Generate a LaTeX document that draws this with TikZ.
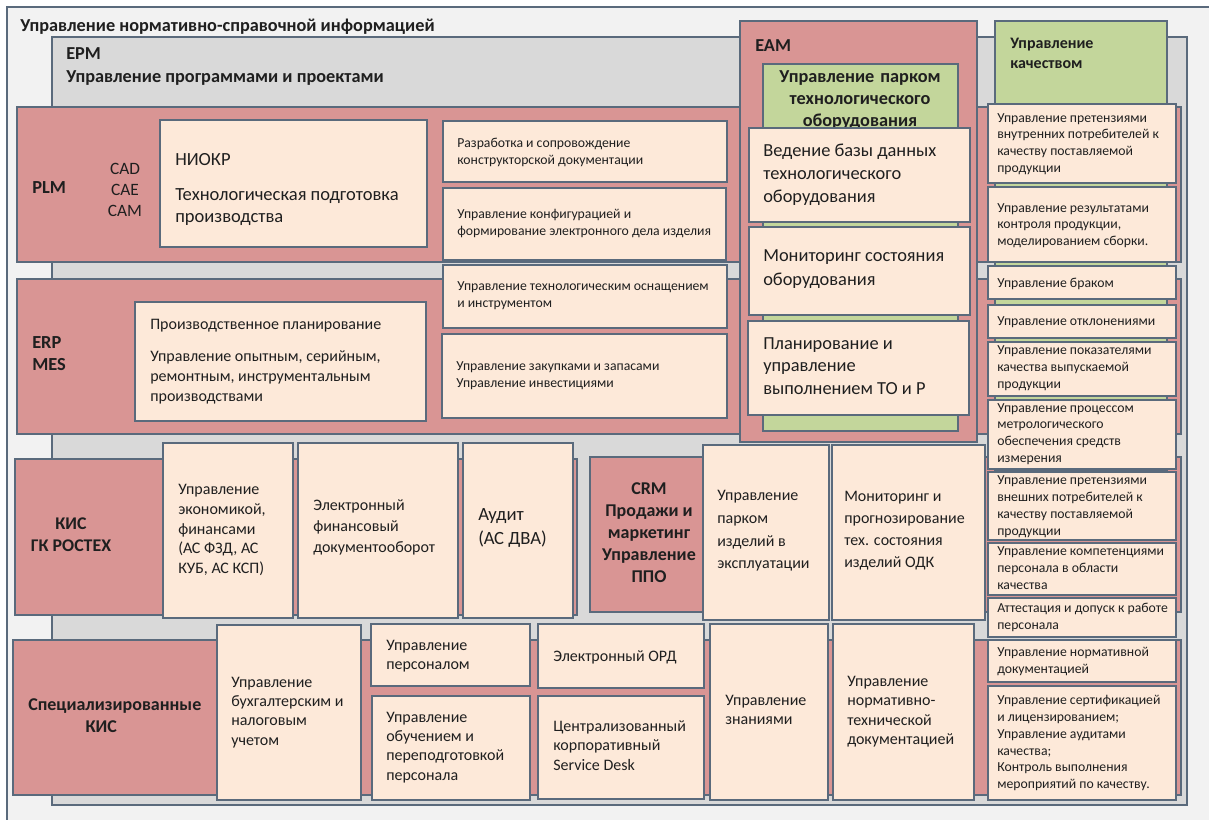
\documentclass[tikz,border=0pt]{standalone}
\usepackage{fontspec}
\setmainfont{Carlito}
\usetikzlibrary{fit}
\definecolor{pinkc}{HTML}{D99594}
\definecolor{peach}{HTML}{FDE9D9}
\definecolor{greenc}{HTML}{C3D69B}
\definecolor{greyc}{HTML}{D9D9D9}
\definecolor{outerc}{HTML}{F2F2F2}
\definecolor{edge}{HTML}{5A6A7C}
\definecolor{ink}{HTML}{1F1F1F}
\newcommand\fsm{\fontsize{10.3}{12.6}\selectfont}
\newcommand\fmd{\fontsize{12}{15}\selectfont}
\newcommand\fsp{\fontsize{12}{14.6}\selectfont}
\newcommand\fbig{\fontsize{13.8}{17.2}\selectfont}
\newcommand\fnio{\fontsize{13.9}{16.5}\selectfont}
\newcommand\fhd{\bfseries\fontsize{13.7}{17.3}\selectfont}
\newcommand\fhdb{\bfseries\fontsize{13.8}{17}\selectfont}
\newcommand\bx[6][box]{\node[#1, fit={(#3,#4) (#5,#6)}] (#2) {};}
\tikzset{
  box/.style={draw=edge, line width=1.2pt, inner sep=0pt, outer sep=0pt, fill=peach},
  pinkbox/.style={box, fill=pinkc},
  greenbox/.style={box, fill=greenc},
  greybox/.style={box, fill=greyc, line width=0.9pt},
  outerbox/.style={box, fill=outerc, line width=0.9pt},
  t/.style={inner sep=0pt, anchor=west, align=left, text=ink,
    execute at begin node=\strut, execute at end node=\strut},
  tc/.style={t, anchor=center, align=center}
}
\begin{document}
\begin{tikzpicture}[x=0.75pt,y=-0.75pt]
\useasboundingbox (0,0) rectangle (1209,820);
\clip (0,0) rectangle (1209,820);
% frames
\bx[outerbox]{outer}{7}{7}{1240}{850}
\bx[greybox]{epm}{52}{37}{1187}{805}
% rows
\bx[pinkbox]{plmrow}{17}{107}{1181}{262}
\bx[pinkbox]{erprow}{17}{279}{1181}{434}
\bx[pinkbox]{kisrow}{15}{459}{577}{615}
\bx[pinkbox]{kisq}{978}{457}{1181}{612}
\bx[pinkbox]{specrow}{13}{640}{1181}{795}
\bx[pinkbox]{crm}{590}{457}{703}{612}
% EAM
\bx[pinkbox]{eam}{740}{21}{977}{442}
\bx[greenbox]{eamg}{763}{64}{958}{431}
\node[tc, font=\bfseries\fontsize{13.7}{16.5}\selectfont, text width=200pt] (eamgt) at (860,100) {Управление парком\\технологического\\оборудования};
\bx{eam1}{749}{128}{970}{222}
\bx{eam2}{749}{227}{970}{315}
\bx{eam3}{748}{321}{969}{415}
% quality
\bx[greenbox]{qual}{995}{21}{1167}{470}
\bx{q1}{988}{104}{1176}{183}
\bx{q2}{988}{187}{1176}{262}
\bx{q3}{988}{266}{1176}{299}
\bx{q4}{988}{305}{1176}{338}
\bx{q5}{988}{342}{1176}{396}
\bx{q6}{988}{400}{1176}{469}
\bx{q7}{988}{472}{1176}{540}
\bx{q8}{988}{543}{1176}{595}
\bx{q9}{988}{598}{1176}{637}
\bx{q10}{988}{640}{1176}{682}
\bx{q11}{988}{686}{1176}{800}
% PLM / ERP boxes
\bx{niokr}{160}{120}{427}{247}
\bx{plm1}{443}{121}{727}{182}
\bx{plm2}{443}{188}{726}{260}
\bx{erp1}{443}{265}{727}{328}
\bx{erp2}{442}{334}{727}{418}
\bx{prod}{135}{302}{426}{421}
% KIS boxes
\bx{kis1}{163}{443}{293}{618}
\bx{kis2}{298}{443}{458}{618}
\bx{kis3}{463}{443}{573}{618}
\bx{crm2}{703}{445}{829}{620}
\bx{crm3}{832}{445}{985}{620}
% Spec boxes
\bx{s1}{217}{625}{361}{800}
\bx{s2}{371}{624}{530}{686}
\bx{s3}{372}{696}{530}{800}
\bx{s4}{538}{624}{704}{688}
\bx{s5}{538}{696}{704}{799}
\bx{s6}{710}{624}{828}{800}
\bx{s7}{833}{624}{974}{800}
% ---------- texts ----------
\node[t, font=\fhd] (title) at (20,27) {Управление нормативно-справочной информацией};
\node[t, font=\fhd] (epmt) at (66,69) {EPM\\Управление программами и проектами};
\node[t, font=\fhd] (eamt) at (755,47) {EAM};
\node[t, font=\bfseries\fontsize{12}{15}\selectfont, text width=120pt] (qualt) at (1010,55) {Управление\\качеством};
% PLM
\node[t, font=\fhdb] (plmt) at (32,189) {PLM};
\node[tc, font=\fontsize{13}{16}\selectfont] (cadt) at (125,193) {CAD\\CAE\\CAM};
\node[t, font=\fnio] (niokrt) at (175,191.5) {НИОКР\\[10pt]Технологическая подготовка\\производства};
\node[t, font=\fsm] (plm1t) at (457,154) {Разработка и сопровождение\\конструкторской документации};
\node[t, font=\fsm] (plm2t) at (457,225) {Управление конфигурацией и\\формирование электронного дела изделия};
\node[t, font=\fsm] (erp1t) at (457,297) {Управление технологическим оснащением\\и инструментом};
\node[t, font=\fsm] (erp2t) at (456,377) {Управление закупками и запасами\\Управление инвестициями};
% ERP
\node[t, font=\fhdb] (erpt) at (32,357) {ERP\\MES};
\node[t, font=\fmd] (prodt) at (150,363) {Производственное планирование\\[9pt]Управление опытным, серийным,\\ремонтным, инструментальным\\производствами};
% KIS
\node[tc, font=\bfseries\fontsize{13.4}{17}\selectfont] (kist) at (71,538) {КИС\\ГК РОСТЕХ};
\node[t, font=\fontsize{12}{14.8}\selectfont] (kis1t) at (178,532) {Управление\\экономикой,\\финансами\\(АС ФЗД, АС\\КУБ, АС КСП)};
\node[t, font=\fontsize{12}{15.8}\selectfont] (kis2t) at (313,529) {Электронный\\финансовый\\документооборот};
\node[t, font=\fontsize{14}{18}\selectfont] (kis3t) at (478,530) {Аудит\\(АС ДВА)};
\node[tc, font=\bfseries\fontsize{13.5}{16.5}\selectfont] (crmt) at (649,536) {CRM\\Продажи и\\маркетинг\\Управление\\ППО};
\node[t, font=\fontsize{12}{17}\selectfont] (crm2t) at (717,533) {Управление\\парком\\изделий в\\эксплуатации};
\node[t, font=\fontsize{12}{16.5}\selectfont] (crm3t) at (844,533) {Мониторинг и\\прогнозирование\\тех. состояния\\изделий ОДК};
% Spec
\node[t, font=\bfseries\fontsize{13.5}{17}\selectfont] (spect) at (28,719) {Специализированные\\\hspace*{43pt}КИС};
\node[t, font=\fsp] (s1t) at (231,714) {Управление\\бухгалтерским и\\налоговым\\учетом};
\node[t, font=\fsp] (s2t) at (386,658) {Управление\\персоналом};
\node[t, font=\fsp] (s3t) at (386,749) {Управление\\обучением и\\переподготовкой\\персонала};
\node[t, font=\fsp] (s4t) at (553,658) {Электронный ОРД};
\node[t, font=\fsp] (s5t) at (553,748.5) {Централизованный\\корпоративный\\Service Desk};
\node[t, font=\fsp] (s6t) at (725,713) {Управление\\знаниями};
\node[t, font=\fsp] (s7t) at (847,713.5) {Управление\\нормативно-\\технической\\документацией};
% EAM texts
\node[t, font=\fbig] (eam1t) at (763,176.5) {Ведение базы данных\\технологического\\оборудования};
\node[t, font=\fontsize{13.8}{18}\selectfont] (eam2t) at (763,271) {Мониторинг состояния\\оборудования};
\node[t, font=\fbig] (eam3t) at (763,369.5) {Планирование и\\управление\\выполнением ТО и Р};
% quality texts
\node[t, font=\fsm] (q1t) at (997,145.5) {Управление претензиями\\внутренних потребителей к\\качеству поставляемой\\продукции};
\node[t, font=\fsm] (q2t) at (997,227) {Управление результатами\\контроля продукции,\\моделированием сборки.};
\node[t, font=\fsm] (q3t) at (997,284) {Управление браком};
\node[t, font=\fsm] (q4t) at (997,322) {Управление отклонениями};
\node[t, font=\fsm] (q5t) at (997,369.5) {Управление показателями\\качества выпускаемой\\продукции};
\node[t, font=\fsm] (q6t) at (997,435.5) {Управление процессом\\метрологического\\обеспечения средств\\измерения};
\node[t, font=\fsm] (q7t) at (997,508) {Управление претензиями\\внешних потребителей к\\качеству поставляемой\\продукции};
\node[t, font=\fsm] (q8t) at (997,570.5) {Управление компетенциями\\персонала в области\\качества};
\node[t, font=\fsm] (q9t) at (997,619) {Аттестация и допуск к работе\\персонала};
\node[t, font=\fsm] (q10t) at (997,662.5) {Управление нормативной\\документацией};
\node[t, font=\fsm] (q11t) at (997,744.5) {Управление сертификацией\\и лицензированием;\\Управление аудитами\\качества;\\Контроль выполнения\\мероприятий по качеству.};
\end{tikzpicture}
\end{document}
